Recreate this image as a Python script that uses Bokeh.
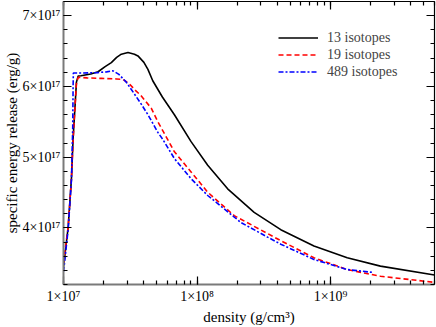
from bokeh.plotting import figure
from bokeh.models import (Range1d, LinearAxis, LogAxis, SingleIntervalTicker, LogTicker,
                          CustomJSTickFormatter, Legend, LegendItem)
from bokeh.embed import file_html
from bokeh.resources import INLINE

# ---- data (density in g/cm^3, energy release in erg/g) ----
x13 = [1.0e7, 1.084e7, 1.147e7, 1.181e7, 1.214e7, 1.25e7, 1.288e7, 1.35e7, 1.6e7, 1.815e7,
       2.05e7, 2.281e7, 2.5e7, 2.709e7, 3.04e7, 3.4e7, 3.61e7, 4.0e7, 4.287e7, 4.66e7,
       5.5e7, 6.769e7, 9.022e7, 1.202e8, 1.695e8, 2.677e8, 4.236e8, 7.507e8, 1.332e9,
       2.361e9, 6.0e9]
y13 = [3.45e17, 4.01e17, 4.70e17, 5.27e17, 5.65e17, 6.06e17, 6.146e17, 6.15e17, 6.175e17, 6.207e17,
       6.28e17, 6.336e17, 6.41e17, 6.455e17, 6.478e17, 6.455e17, 6.431e17, 6.34e17, 6.24e17, 6.08e17,
       5.85e17, 5.599e17, 5.219e17, 4.886e17, 4.552e17, 4.22e17, 3.975e17, 3.745e17, 3.578e17,
       3.46e17, 3.335e17]

x19 = [1.0e7, 1.084e7, 1.147e7, 1.181e7, 1.214e7, 1.25e7, 1.288e7, 1.5e7, 1.921e7, 2.5e7,
       2.79e7, 3.1e7, 3.405e7, 3.8e7, 4.537e7, 5.09e7, 6.769e7, 9.022e7, 1.202e8, 1.898e8,
       4.236e8, 7.507e8, 1.332e9, 2.361e9, 6.0e9]
y19 = [3.50e17, 4.02e17, 4.70e17, 5.25e17, 5.65e17, 6.04e17, 6.13e17, 6.12e17, 6.113e17, 6.105e17,
       6.099e17, 6.04e17, 5.956e17, 5.87e17, 5.694e17, 5.50e17, 5.076e17, 4.791e17, 4.505e17, 4.173e17,
       3.82e17, 3.578e17, 3.411e17, 3.317e17, 3.23e17]

x489 = [1.0e7, 1.084e7, 1.147e7, 1.172e7, 1.18e7, 1.185e7, 1.4e7, 1.8e7, 2.1e7, 2.35e7,
        2.6e7, 2.95e7, 3.405e7, 3.82e7, 4.287e7, 5.09e7, 5.546e7, 6.769e7, 9.022e7, 1.202e8,
        2.13e8, 3.371e8, 4.236e8, 7.507e8, 1.332e9, 2.094e9]
y489 = [3.38e17, 3.98e17, 4.68e17, 5.40e17, 6.0e17, 6.19e17, 6.19e17, 6.195e17, 6.205e17, 6.22e17,
        6.17e17, 6.06e17, 5.89e17, 5.75e17, 5.60e17, 5.35e17, 5.25e17, 4.98e17, 4.695e17, 4.458e17,
        4.077e17, 3.87e17, 3.77e17, 3.554e17, 3.411e17, 3.37e17]

series_labels = ["13 isotopes", "19 isotopes", "489 isotopes"]
x_label = "density (g/cm³)"
y_label = "specific energy release (erg/g)"

FONT = "Liberation Serif"

p = figure(width=436, height=327, x_axis_type="log",
           x_range=Range1d(1e7, 6e9), y_range=Range1d(3.2e17, 7.2e17),
           output_backend="svg", toolbar_location=None,
           min_border_left=62, min_border_right=2, min_border_top=1, min_border_bottom=0)
p.outline_line_color = None
p.xgrid.visible = False
p.ygrid.visible = False
p.background_fill_color = "white"
p.border_fill_color = "white"

yfmt = CustomJSTickFormatter(code="""
return Math.round(tick/1e17) + '×10' + '¹⁷';
""")
xfmt = CustomJSTickFormatter(code="""
const s = '⁰¹²³⁴⁵⁶⁷⁸⁹';
const e = Math.round(Math.log10(tick));
return '1×10' + String(e).split('').map(c => s[Number(c)]).join('');
""")
blankfmt = CustomJSTickFormatter(code="return '';")

def style_axis(ax, main):
    ax.major_tick_in = 8
    ax.major_tick_out = 0
    ax.minor_tick_in = 4
    ax.minor_tick_out = 0
    ax.major_tick_line_color = "black"
    ax.minor_tick_line_color = "black"
    ax.major_tick_line_width = 1.2
    ax.minor_tick_line_width = 1.2
    if main:
        ax.axis_line_color = "#7a7a7a"
        ax.axis_line_width = 2
        ax.major_label_text_font = FONT
        ax.major_label_text_font_size = "14px"
        ax.major_label_text_color = "black"
        ax.axis_label_text_font = FONT
        ax.axis_label_text_font_size = "15px"
        ax.axis_label_text_font_style = "normal"
        ax.axis_label_text_color = "black"
    else:
        ax.axis_line_color = "black"
        ax.axis_line_width = 1.2
        ax.formatter = blankfmt
        ax.major_label_text_font_size = "2px"
        ax.major_label_standoff = 0

# main axes
yax = p.yaxis[0]
yax.ticker = SingleIntervalTicker(interval=1e17, num_minor_ticks=5)
yax.formatter = yfmt
yax.axis_label = y_label
yax.major_label_standoff = 3
yax.axis_label_standoff = 0
style_axis(yax, True)

xax = p.xaxis[0]
xax.ticker = LogTicker(num_minor_ticks=10)
xax.formatter = xfmt
xax.axis_label = x_label
xax.major_label_standoff = 4
xax.axis_label_standoff = 2
style_axis(xax, True)

# mirrored axes (ticks only)
rax = LinearAxis(ticker=SingleIntervalTicker(interval=1e17, num_minor_ticks=5))
style_axis(rax, False)
p.add_layout(rax, "right")
tax = LogAxis(ticker=LogTicker(num_minor_ticks=10))
style_axis(tax, False)
p.add_layout(tax, "above")

r13 = p.line(x13, y13, line_color="black", line_width=1.6)
r19 = p.line(x19, y19, line_color="red", line_width=1.6, line_dash="5 3")
r489 = p.line(x489, y489, line_color="blue", line_width=1.6, line_dash="5 2 2 2")

legend = Legend(items=[LegendItem(label=series_labels[0], renderers=[r13]),
                       LegendItem(label=series_labels[1], renderers=[r19]),
                       LegendItem(label=series_labels[2], renderers=[r489])],
                location=(215, 204))
legend.border_line_color = None
legend.background_fill_alpha = 0
legend.label_text_font = FONT
legend.label_text_font_size = "14px"
legend.glyph_width = 40
legend.glyph_height = 17
legend.label_height = 17
legend.label_standoff = 9
legend.spacing = 0
legend.padding = 0
legend.margin = 0
p.add_layout(legend, "center")

open("out.html", "w").write(file_html(p, INLINE))
